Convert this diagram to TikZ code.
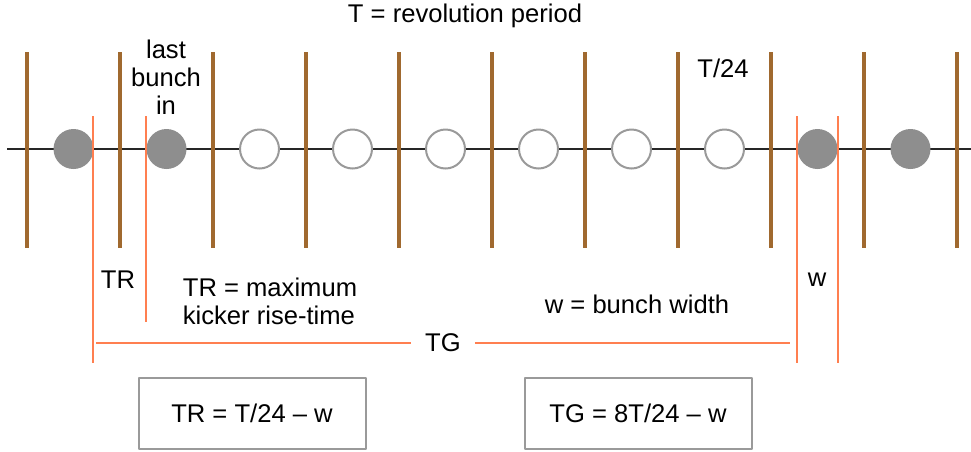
\documentclass[tikz,border=0pt]{standalone}
\usepackage{fontspec}
\setmainfont{Liberation Sans}
\usetikzlibrary{positioning}

\definecolor{rodbrown}{HTML}{A0692F}
\definecolor{riseorange}{HTML}{FF7F50}
\definecolor{bunchgray}{HTML}{8E8E8E}
\definecolor{boxgray}{HTML}{9A9A9A}

\begin{document}
\begin{tikzpicture}[x=1pt, y=-1pt, line join=round,
    font=\fontsize{25.6}{28}\selectfont,
    slot/.style={draw=rodbrown, line width=3.5pt},
    riseline/.style={draw=riseorange, line width=2.5pt},
    fullbunch/.style={circle, minimum size=40pt, inner sep=0pt, fill=bunchgray},
    emptybunch/.style={circle, minimum size=39pt, inner sep=0pt, fill=white, draw=boxgray, line width=2pt},
    formula/.style={draw=boxgray, line width=2pt, minimum width=227pt, minimum height=71pt}]
    \useasboundingbox (0,0) rectangle (971,451);

    % 1. 时间轴与桶边界
    \coordinate (axisL) at (7,149);
    \coordinate (axisR) at (971,149);
    \draw[line width=2pt, black!85] (axisL) -- (axisR);
    \foreach \k in {0,...,10}
        \draw[slot] (27+93*\k,52) -- (27+93*\k,248);

    % 2. 束团 (实心 = 在环中, 空心 = 空桶)
    \node[fullbunch] (b1) at (73.5,149) {};
    \node[fullbunch] (b2) at (166.5,149) {};
    \foreach \k in {3,...,8}
        \node[emptybunch] (b\k) at (73.5+93*\k-93,149) {};
    \node[fullbunch] (b9) at (817.5,149) {};
    \node[fullbunch] (b10) at (910.5,149) {};

    % 3. 上方文字
    \node (period) at (465,16) {T = revolution period};
    \node[align=center] (lastin) at (166,77) {last\\bunch\\in};
    \node (slotlen) at (723,68) {T/24};

    % 4. 上升时间 TR 与束团宽度 w 的标尺
    \coordinate (trA) at (93,116);
    \coordinate (trA') at (93,363);
    \coordinate (trB) at (146,116);
    \coordinate (trB') at (146,322);
    \coordinate (wA) at (797,116);
    \coordinate (wA') at (797,363);
    \coordinate (wB) at (838,116);
    \coordinate (wB') at (838,363);
    \draw[riseline] (trA) -- (trA');
    \draw[riseline] (trB) -- (trB');
    \draw[riseline] (wA) -- (wA');
    \draw[riseline] (wB) -- (wB');
    \node (trlabel) at (118,280) {TR};
    \node (wlabel) at (817,280) {w};
    \node[align=left] (trdef) at (270,301) {TR = maximum\\kicker rise-time};
    \node (wdef) at (637,304) {w = bunch width};

    % 5. 间隙 TG
    \coordinate (tgL) at (96,343);
    \coordinate (tgR) at (790,343);
    \node[inner sep=14pt] (tglabel) at (443,343) {TG};
    \draw[riseline] (tgL) -- (tglabel);
    \draw[riseline] (tglabel) -- (tgR);

    % 6. 公式框
    \node[formula] (trbox) at (252,413) {TR = T/24 -- w};
    \node[formula] (tgbox) at (638,413) {TG = 8T/24 -- w};
\end{tikzpicture}
\end{document}
